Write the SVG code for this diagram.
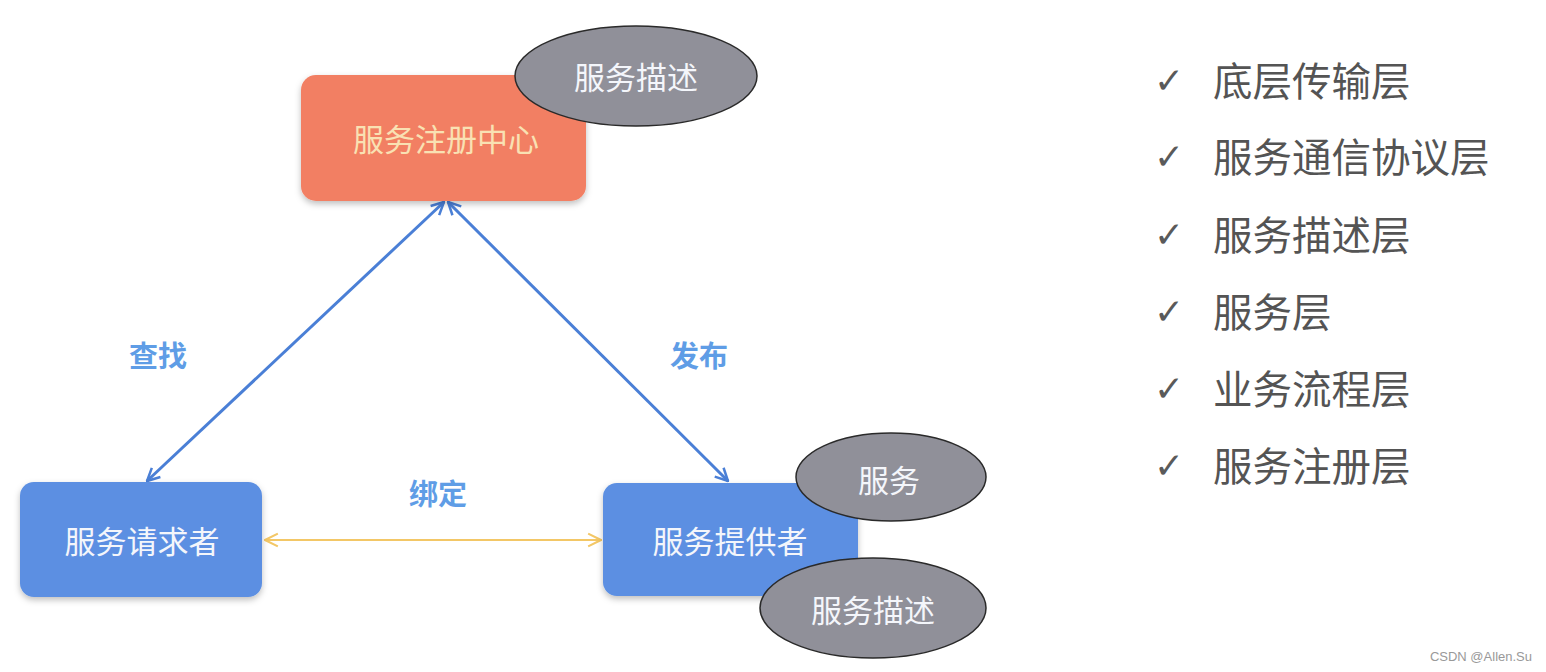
<svg xmlns="http://www.w3.org/2000/svg" width="1546" height="672" viewBox="0 0 1546 672">
<style>
.t{font-family:"Noto Sans CJK SC","Noto Sans",sans-serif;text-anchor:middle;dominant-baseline:central}
.node-t{font-size:31px;fill:#f4f6fb}
.ell{fill:#909099;stroke:#2a2a2a;stroke-width:1.5}
.lbl{font-size:29px;font-weight:bold;fill:#5f9de6}
.li{font-family:"Noto Sans CJK SC","Noto Sans",sans-serif;font-size:39.5px;fill:#545454;dominant-baseline:central}
.ck{font-family:"DejaVu Sans",sans-serif;font-size:36px;fill:#5a5a5a;dominant-baseline:central}
</style>
<defs>
<filter id="sh" x="-10%" y="-10%" width="120%" height="130%">
<feDropShadow dx="0" dy="3" stdDeviation="3" flood-color="#000" flood-opacity="0.25"/>
</filter>
<marker id="ab" viewBox="0 0 12 12" refX="11" refY="6" markerWidth="5" markerHeight="5" orient="auto-start-reverse" markerUnits="strokeWidth">
<path d="M1,1 L11,6 L1,11" fill="none" stroke="#4a7fd6" stroke-width="2"/>
</marker>
<marker id="ay" viewBox="0 0 12 12" refX="11" refY="6" markerWidth="7" markerHeight="7" orient="auto-start-reverse" markerUnits="strokeWidth">
<path d="M1,1 L11,6 L1,11" fill="none" stroke="#f3c766" stroke-width="1.6"/>
</marker>
</defs>
<rect width="1546" height="672" fill="#fff"/>
<g id="connectors">
<line x1="444" y1="202" x2="147" y2="481" stroke="#4a7fd6" stroke-width="3" marker-start="url(#ab)" marker-end="url(#ab)"/>
<line x1="448" y1="202" x2="728" y2="481" stroke="#4a7fd6" stroke-width="3" marker-start="url(#ab)" marker-end="url(#ab)"/>
<line x1="265" y1="540" x2="601" y2="540" stroke="#f3c766" stroke-width="2.2" marker-start="url(#ay)" marker-end="url(#ay)"/>
<text class="t lbl" x="158" y="354">查找</text>
<text class="t lbl" x="699" y="354">发布</text>
<text class="t lbl" x="438" y="492">绑定</text>
</g>
<g id="registry">
<rect x="301" y="75" width="285" height="126" rx="15" fill="#f27f63" filter="url(#sh)"/>
<text class="t node-t" x="446" y="137" style="fill:#f9e1b3">服务注册中心</text>
</g>
<g id="registry-desc">
<ellipse class="ell" cx="636" cy="76" rx="121" ry="50"/>
<text class="t node-t" x="636" y="75">服务描述</text>
</g>
<g id="requester">
<rect x="20" y="482" width="242" height="115" rx="14" fill="#5b8fe2" filter="url(#sh)"/>
<text class="t node-t" x="142" y="539">服务请求者</text>
</g>
<g id="provider">
<rect x="603" y="483" width="255" height="113" rx="14" fill="#5b8fe2" filter="url(#sh)"/>
<text class="t node-t" x="730" y="539">服务提供者</text>
</g>
<g id="provider-service">
<ellipse class="ell" cx="891" cy="477" rx="95" ry="44"/>
<text class="t node-t" x="889" y="478">服务</text>
</g>
<g id="provider-desc">
<ellipse class="ell" cx="873" cy="608" rx="113" ry="50"/>
<text class="t node-t" x="873" y="608">服务描述</text>
</g>
<g id="layers">
<text class="ck" x="1154" y="80">✓</text><text class="li" x="1213" y="78">底层传输层</text>
<text class="ck" x="1154" y="156">✓</text><text class="li" x="1213" y="154">服务通信协议层</text>
<text class="ck" x="1154" y="234">✓</text><text class="li" x="1213" y="232">服务描述层</text>
<text class="ck" x="1154" y="311">✓</text><text class="li" x="1213" y="309">服务层</text>
<text class="ck" x="1154" y="388">✓</text><text class="li" x="1213" y="386">业务流程层</text>
<text class="ck" x="1154" y="465">✓</text><text class="li" x="1213" y="463">服务注册层</text>
</g>
<text x="1532" y="656" font-family="Liberation Sans, sans-serif" font-size="13" fill="#999" text-anchor="end" dominant-baseline="central">CSDN @Allen.Su</text>
</svg>
